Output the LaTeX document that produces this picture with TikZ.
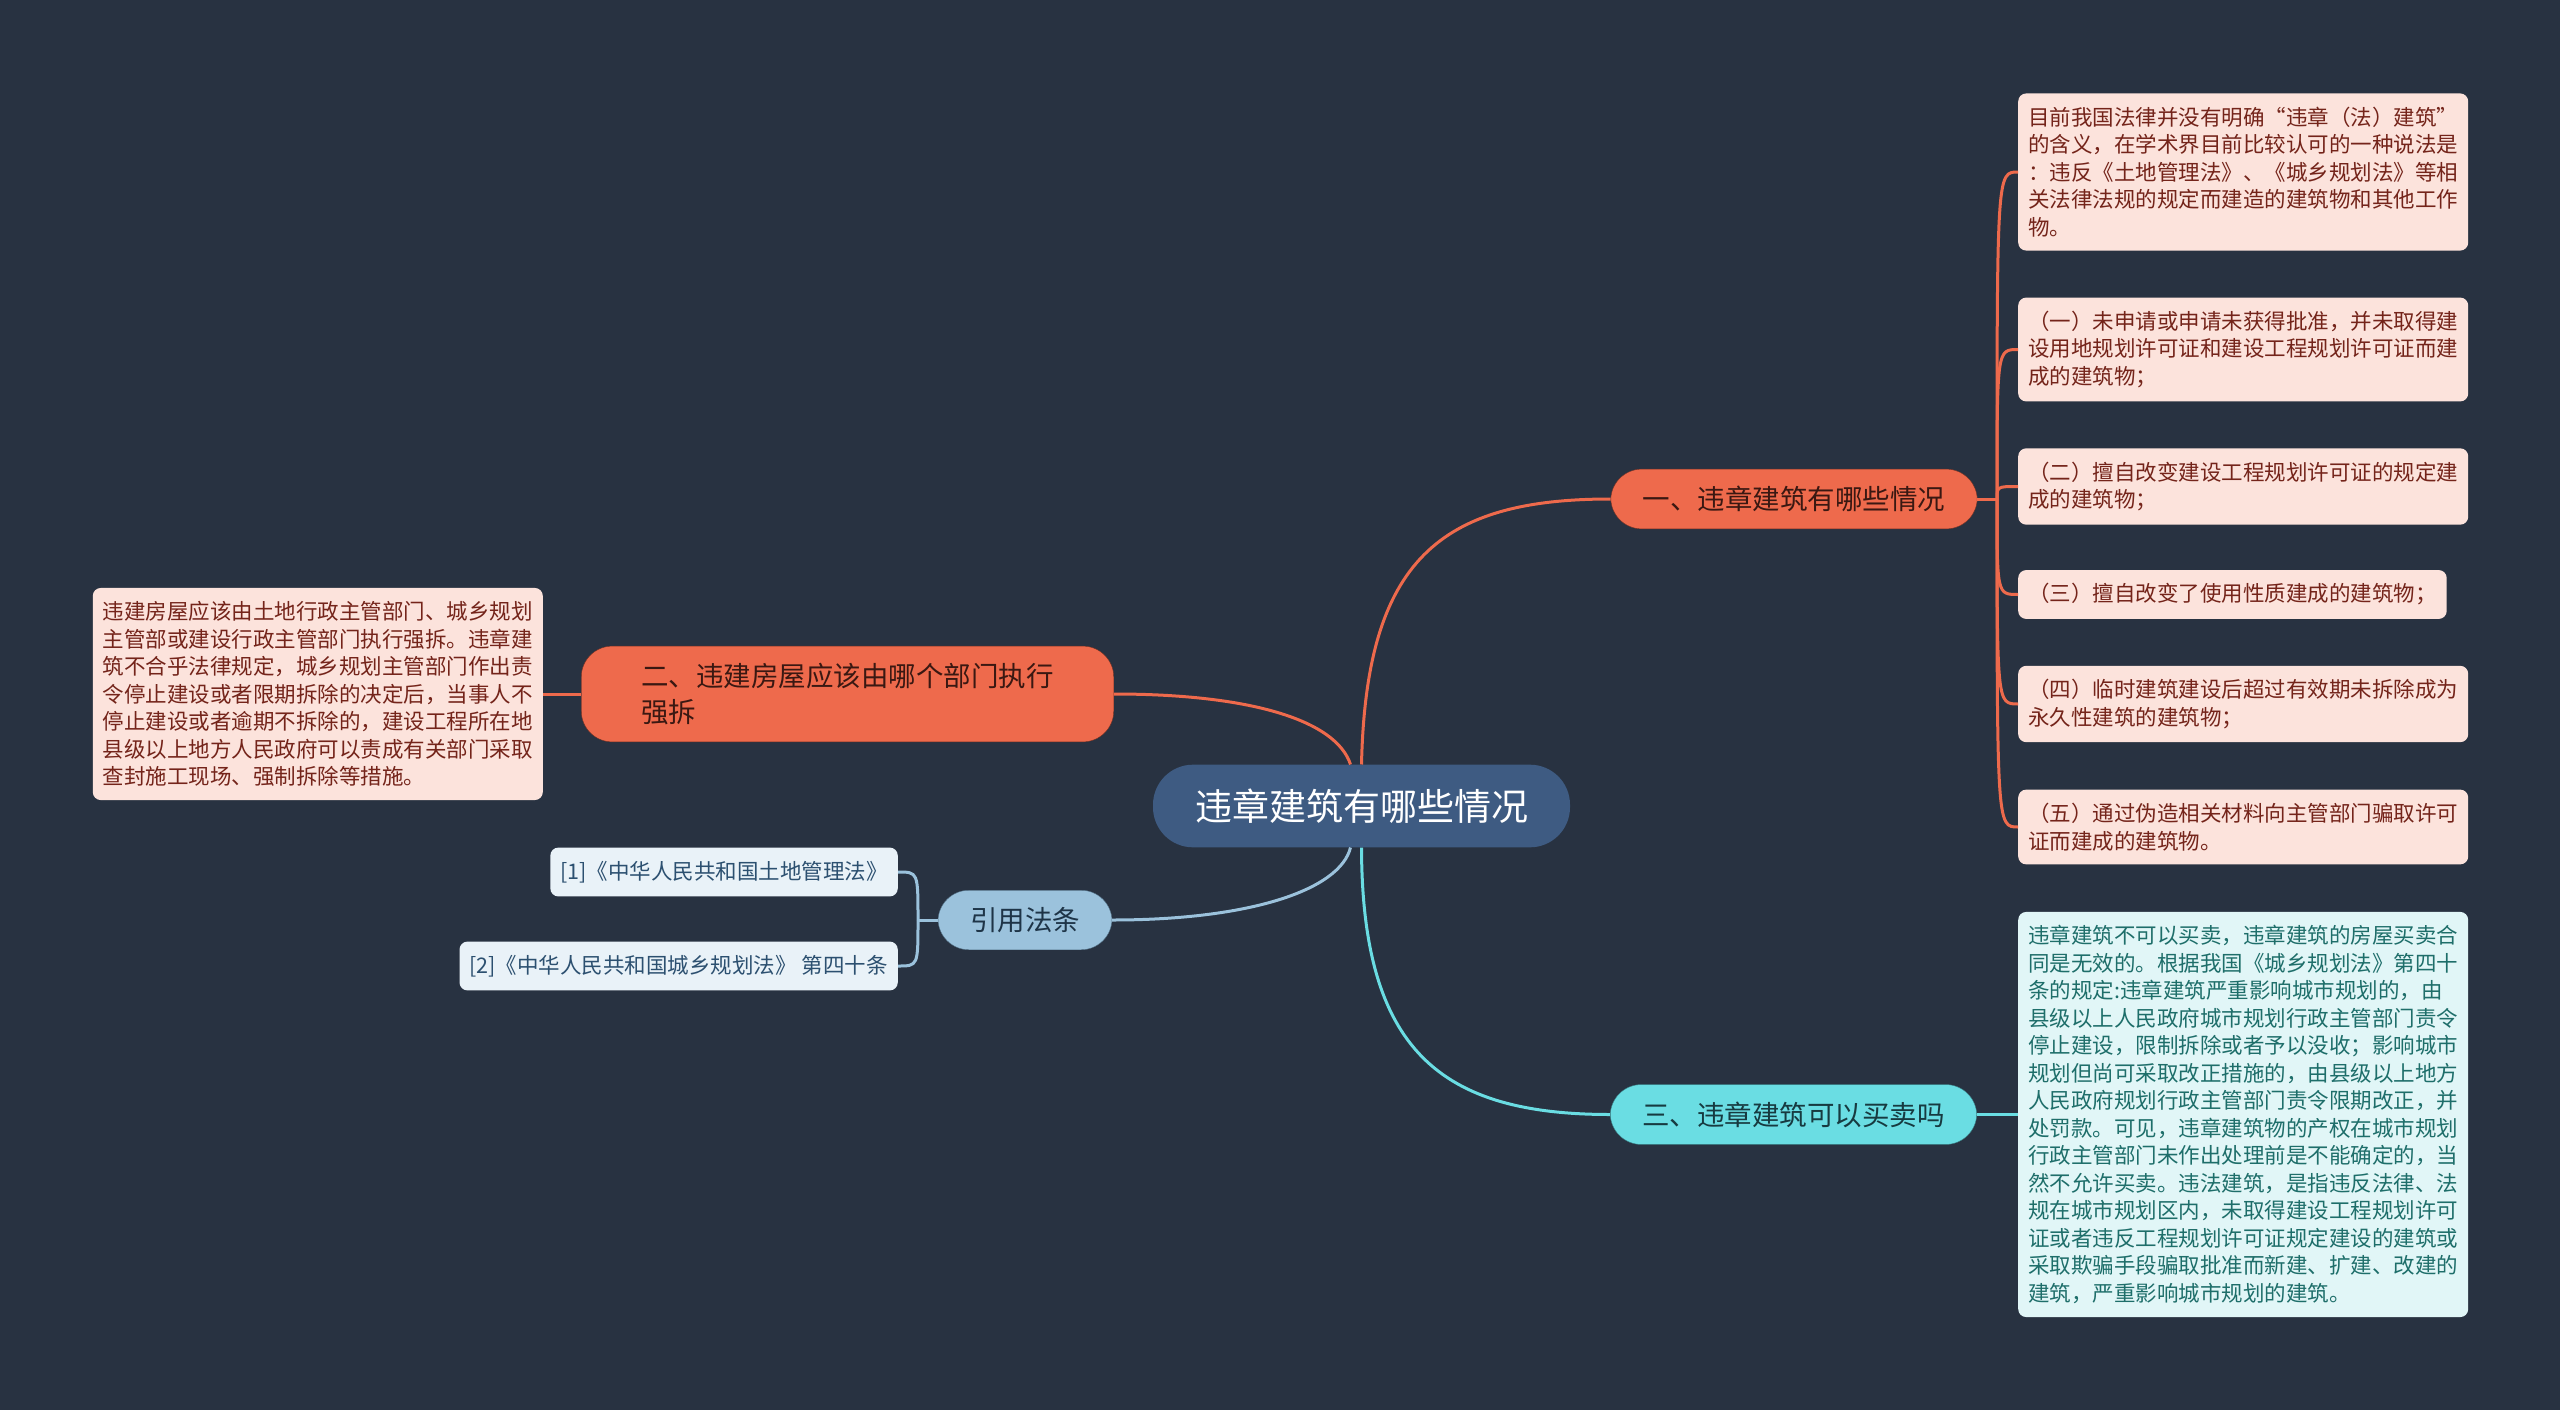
\documentclass[tikz,border=0pt]{standalone}
\usepackage{fontspec}
\setmainfont{Noto Sans CJK SC}

\definecolor{bgcol}{HTML}{283241}
\definecolor{rootcol}{HTML}{3E5B82}
\definecolor{redcol}{HTML}{EE6A4C}
\definecolor{redtext}{HTML}{3A1812}
\definecolor{redleaf}{HTML}{FCE3DC}
\definecolor{redleaftext}{HTML}{74241A}
\definecolor{cyancol}{HTML}{6ADDE3}
\definecolor{cyantext}{HTML}{173A40}
\definecolor{cyanleaf}{HTML}{E1F6F7}
\definecolor{cyanleaftext}{HTML}{1E6E6A}
\definecolor{bluecol}{HTML}{9BC2DC}
\definecolor{bluetext}{HTML}{1E3447}
\definecolor{blueleaf}{HTML}{E9F2F8}
\definecolor{blueleaftext}{HTML}{2C5070}

\begin{document}
\begin{tikzpicture}[x=1pt,y=-1pt,
  rootbox/.style={fill=rootcol, text=white, rounded corners=40pt,
    inner xsep=42pt, inner ysep=24pt, font=\fontsize{37}{44}\selectfont},
  branchbox/.style={rounded corners=31pt, inner xsep=32pt, inner ysep=17pt,
    align=left, font=\fontsize{27.5}{36}\selectfont},
  leafbox/.style={rounded corners=8pt, inner xsep=10pt, inner ysep=13.5pt,
    align=left, font=\fontsize{21.5}{27.5}\selectfont},
  redline/.style={draw=redcol, line width=3pt},
  cyanline/.style={draw=cyancol, line width=3pt},
  blueline/.style={draw=bluecol, line width=3pt}]

  \useasboundingbox (0,0) rectangle (2560,1410);
  \fill[bgcol] (0,0) rectangle (2560,1410);

  % centre and main branches
  \node[rootbox] (root) at (1361.5,806) {违章建筑有哪些情况};
  \node[branchbox, fill=redcol, draw=redtext!70!redcol, text=redtext] (b1) at (1794,499) {一、违章建筑有哪些情况};
  \node[branchbox, fill=redcol, draw=redtext!70!redcol, text=redtext, inner xsep=60pt] (b2) at (847.5,694)
    {二、违建房屋应该由哪个部门执行\\强拆};
  \node[branchbox, fill=bluecol, draw=bluetext!60!bluecol, text=bluetext] (cite) at (1025,920) {引用法条};
  \node[branchbox, fill=cyancol, draw=cyantext!60!cyancol, text=cyantext] (b3) at (1793.5,1114.5) {三、违章建筑可以买卖吗};

  % leaves of the first branch
  \node[leafbox, fill=redleaf, text=redleaftext, anchor=west] (l1) at (2018,172)
    {目前我国法律并没有明确“违章（法）建筑”\\的含义，在学术界目前比较认可的一种说法是\\：违反《土地管理法》、《城乡规划法》等相\\关法律法规的规定而建造的建筑物和其他工作\\物。};
  \node[leafbox, fill=redleaf, text=redleaftext, anchor=west] (l2) at (2018,349.5)
    {（一）未申请或申请未获得批准，并未取得建\\设用地规划许可证和建设工程规划许可证而建\\成的建筑物；};
  \node[leafbox, fill=redleaf, text=redleaftext, anchor=west] (l3) at (2018,486.5)
    {（二）擅自改变建设工程规划许可证的规定建\\成的建筑物；};
  \node[leafbox, fill=redleaf, text=redleaftext, anchor=west] (l4) at (2018,594.5)
    {（三）擅自改变了使用性质建成的建筑物；};
  \node[leafbox, fill=redleaf, text=redleaftext, anchor=west] (l5) at (2018,704)
    {（四）临时建筑建设后超过有效期未拆除成为\\永久性建筑的建筑物；};
  \node[leafbox, fill=redleaf, text=redleaftext, anchor=west] (l6) at (2018,827)
    {（五）通过伪造相关材料向主管部门骗取许可\\证而建成的建筑物。};

  % leaf of the second branch
  \node[leafbox, fill=redleaf, text=redleaftext, anchor=east] (l7) at (543,694)
    {违建房屋应该由土地行政主管部门、城乡规划\\主管部或建设行政主管部门执行强拆。违章建\\筑不合乎法律规定，城乡规划主管部门作出责\\令停止建设或者限期拆除的决定后，当事人不\\停止建设或者逾期不拆除的，建设工程所在地\\县级以上地方人民政府可以责成有关部门采取\\查封施工现场、强制拆除等措施。};

  % citations
  \node[leafbox, fill=blueleaf, text=blueleaftext, anchor=east] (c1) at (898,872)
    {[1]《中华人民共和国土地管理法》};
  \node[leafbox, fill=blueleaf, text=blueleaftext, anchor=east] (c2) at (898,966)
    {[2]《中华人民共和国城乡规划法》 第四十条};

  % leaf of the third branch
  \node[leafbox, fill=cyanleaf, text=cyanleaftext, anchor=west] (l8) at (2018,1114.5)
    {违章建筑不可以买卖，违章建筑的房屋买卖合\\同是无效的。根据我国《城乡规划法》第四十\\条的规定:违章建筑严重影响城市规划的，由\\县级以上人民政府城市规划行政主管部门责令\\停止建设，限制拆除或者予以没收；影响城市\\规划但尚可采取改正措施的，由县级以上地方\\人民政府规划行政主管部门责令限期改正，并\\处罚款。可见，违章建筑物的产权在城市规划\\行政主管部门未作出处理前是不能确定的，当\\然不允许买卖。违法建筑，是指违反法律、法\\规在城市规划区内，未取得建设工程规划许可\\证或者违反工程规划许可证规定建设的建筑或\\采取欺骗手段骗取批准而新建、扩建、改建的\\建筑，严重影响城市规划的建筑。};

  % connectors
  \draw[redline] (root.north) .. controls (1366,560) and (1440,499) .. (b1.west);
  \draw[redline] (b2.east) .. controls (1250,694) and (1336,720) .. ([xshift=-11pt]root.north);
  \draw[blueline] ([xshift=-11pt]root.south) .. controls (1340,890) and (1250,920) .. (cite.east);
  \draw[cyanline] (root.south) .. controls (1362,1050) and (1440,1114.5) .. (b3.west);

  \coordinate (s1) at (1997,499);
  \draw[redline] (b1.east) -- (s1);
  \foreach \n in {l1,l2,l3,l4,l5,l6}
    \draw[redline] (s1) .. controls (s1 |- \n.west) .. (\n.west);

  \draw[redline] (b2.west) -- (l7.east);
  \draw[cyanline] (b3.east) -- (l8.west);

  \coordinate (s2) at (918,920);
  \draw[blueline] (cite.west) -- (s2);
  \foreach \n in {c1,c2}
    \draw[blueline] (s2) .. controls (s2 |- \n.east) .. (\n.east);

\end{tikzpicture}
\end{document}
